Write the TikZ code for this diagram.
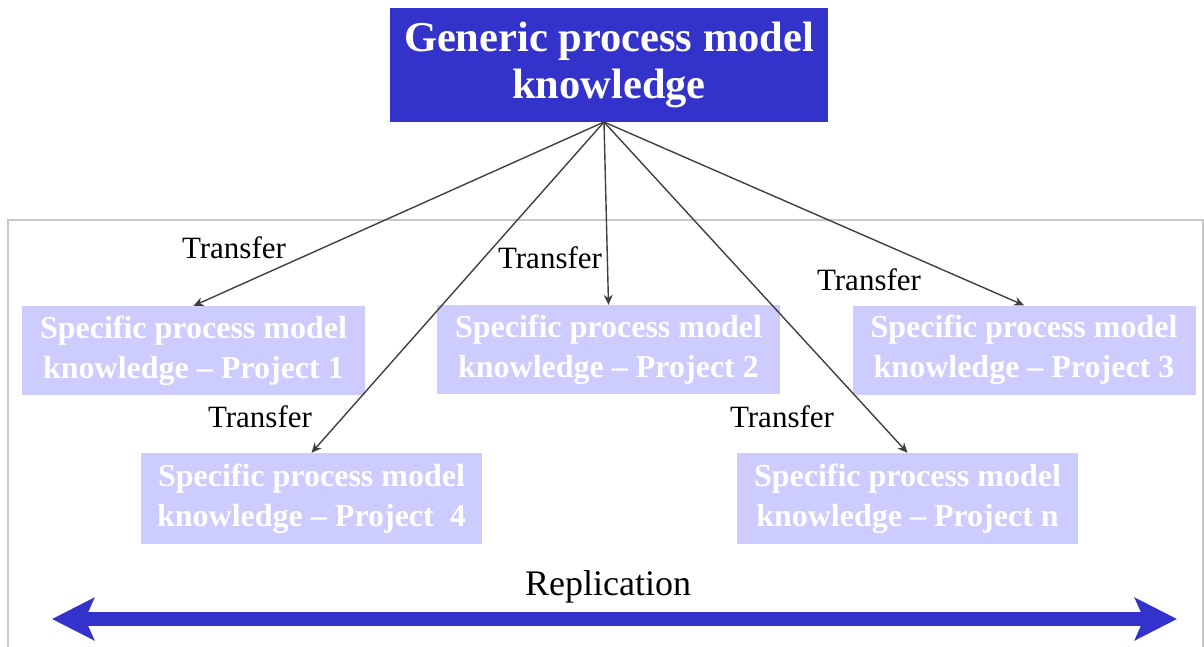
\documentclass[tikz,border=0pt]{standalone}
\usepackage{fontspec}
\setmainfont{Liberation Serif}
\usetikzlibrary{arrows.meta}
\definecolor{blueD}{HTML}{3333CC}
\definecolor{blueL}{HTML}{CCCCFF}
\definecolor{frameG}{HTML}{C8C8C8}
\definecolor{arrG}{HTML}{404040}
\tikzset{
  topbox/.style={fill=blueD, text=white, inner sep=0pt, minimum width=438pt, minimum height=114pt, align=center, font=\fontsize{42.5}{47}\selectfont\bfseries},
  specbox/.style={fill=blueL, text=white, inner sep=0pt, minimum width=343pt, minimum height=89pt, align=center, font=\fontsize{32}{40}\selectfont\bfseries},
  translabel/.style={text=black, inner sep=0pt, font=\fontsize{31}{36}\selectfont},
  transfer/.style={draw=arrG, line width=1.4pt, -{Stealth[length=10pt,width=9pt]}},
  replarrow/.style={draw=blueD, line width=14pt, {Stealth[length=42pt,width=42pt,inset=9pt]}-{Stealth[length=42pt,width=42pt,inset=9pt]}}
}
\begin{document}
\begin{tikzpicture}[x=1pt,y=-1pt]
\useasboundingbox (0,0) rectangle (1204,646);
% frame
\draw[frameG, line width=2pt] (8,650) -- (8,220) -- (1203,220) -- (1203,650);
% nodes
\node[topbox] (top) at (609,65) {Generic process model\\knowledge};
\coordinate (src) at (604,122);
\node[specbox] (p1) at (193.5,350.5) {Specific process model\\knowledge -- Project 1};
\node[specbox] (p2) at (608.5,349.5) {Specific process model\\knowledge -- Project 2};
\node[specbox] (p3) at (1024,350) {Specific process model\\knowledge -- Project 3};
\node[specbox, minimum width=341pt, minimum height=91pt] (p4) at (311.5,498.5) {Specific process model\\knowledge -- Project\ \ 4};
\node[specbox, minimum width=341pt, minimum height=91pt] (pn) at (907.5,498.5) {Specific process model\\knowledge -- Project n};
% labels
\node[translabel] (t1) at (234,248) {Transfer};
\node[translabel] (t2) at (550,258) {Transfer};
\node[translabel] (t3) at (869,280) {Transfer};
\node[translabel] (t4) at (260,417) {Transfer};
\node[translabel] (t5) at (782,417) {Transfer};
% connectors
\draw[transfer] (src) -- (p1.north);
\draw[transfer] (src) -- (p2.north);
\draw[transfer] (src) -- (p3.north);
\draw[transfer] (src) -- (p4.north);
\draw[transfer] (src) -- (pn.north);
% replication
\node[text=black, inner sep=0pt, font=\fontsize{36}{40}\selectfont] (rep) at (608,587) {Replication};
\coordinate (rl) at (52,619);
\coordinate (rr) at (1177,619);
\draw[replarrow] (rl) -- (rr);
\end{tikzpicture}
\end{document}
